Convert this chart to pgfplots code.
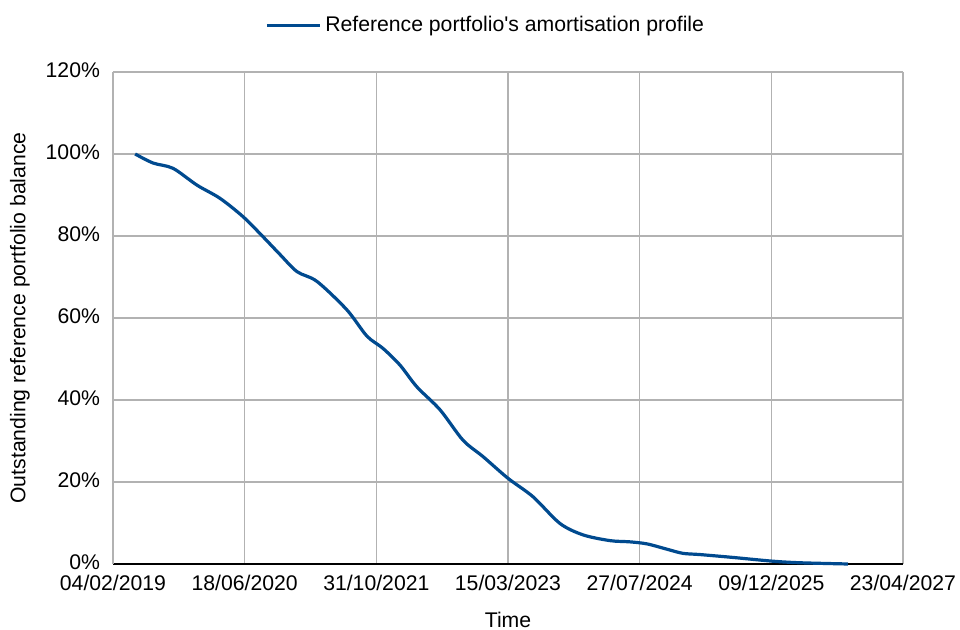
\documentclass[border=0pt]{standalone}
\usepackage{pgfplots}
\pgfplotsset{compat=1.18}
\usepackage{fontspec}
\setmainfont{Liberation Sans}[Ligatures=TeXOff]
\usetikzlibrary{calc}
\definecolor{lineblue}{RGB}{0,74,143}
\definecolor{gridgray}{RGB}{178,178,178}
\newcommand{\cf}{\fontsize{10.6pt}{12pt}\selectfont}
\begin{document}
\begin{tikzpicture}
\path[use as bounding box] (0,0) rectangle (480pt,315pt);
\begin{axis}[
  at={(56.5pt,33pt)}, anchor=south west,
  width=395pt, height=246pt, scale only axis,
  xmin=0, xmax=3000, ymin=0, ymax=120,
  xtick={0,500,1000,1500,2000,2500,3000},
  xticklabels={04/02/2019,18/06/2020,31/10/2021,15/03/2023,27/07/2024,09/12/2025,23/04/2027},
  ytick={0,20,40,60,80,100,120},
  yticklabels={0\%,20\%,40\%,60\%,80\%,100\%,120\%},
  major tick length=0pt,
  grid=major,
  major grid style={gridgray, line width=0.6pt},
  axis x line*=bottom, axis y line*=left,
  x axis line style={black, line width=0.9pt, -},
  y axis line style={gridgray, line width=0.6pt, -},
  tick label style={font=\cf},
  xticklabel style={yshift=-2pt},
  yticklabel style={xshift=-3pt, yshift=1pt},
  xlabel={Time},
  ylabel={Outstanding reference portfolio balance},
  label style={font=\cf},
  xlabel style={at={(rel axis cs:0.5,0)}, anchor=center, yshift=-28pt},
  ylabel style={at={($(rel axis cs:0,0.5)+(-46.5pt,0)$)}, anchor=center},
  legend style={at={(0.473,1.0955)}, anchor=center, draw=none, fill=none, font=\cf, inner sep=0pt},
  legend image code/.code={\draw[#1, line width=1.5pt] (0pt,0pt) -- (26.5pt,0pt);},
  clip=false,
]
\addplot[lineblue, line width=1.6pt, smooth, tension=0.5] coordinates {
(84,100) (152,97.8) (228,96.5) (319,92.4) (406,89.2) (494,84.7) (570,79.8)
(634,75.5) (699,71.3) (775,68.9) (888,62) (964,55.6) (1025,52.6) (1090,48.5)
(1154,43.2) (1242,37.6) (1329,30.2) (1405,26.2) (1500,20.9) (1595,16.4)
(1697,9.9) (1785,7.1) (1887,5.7) (1963,5.4) (2028,4.9) (2104,3.6) (2164,2.6)
(2229,2.3) (2354,1.6) (2502,0.7) (2609,0.3) (2791,0)
};
\addlegendentry{Reference portfolio's amortisation profile}
\end{axis}
\end{tikzpicture}
\end{document}
